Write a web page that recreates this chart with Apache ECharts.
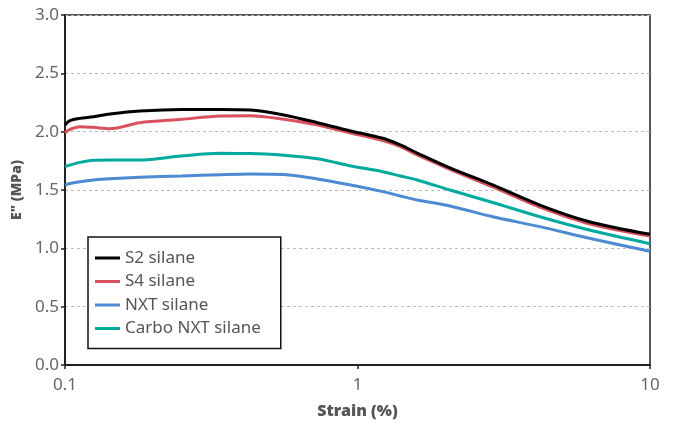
<!DOCTYPE html>
<html>
<head>
<meta charset="utf-8">
<script src="https://cdn.jsdelivr.net/npm/echarts@6/dist/echarts.min.js"></script>
<style>html,body{margin:0;padding:0;background:#fff}#c{width:676px;height:425px}</style>
</head>
<body>
<div id="c"></div>
<script>
const strain = [0.1, 0.104, 0.1125, 0.125, 0.1425, 0.18, 0.25, 0.34, 0.43, 0.56, 0.73, 0.94, 1.22, 1.4, 1.6, 2.07, 2.9, 4.2, 6.2, 10];
const s2 = [2.057, 2.094, 2.114, 2.128, 2.151, 2.177, 2.191, 2.191, 2.186, 2.143, 2.077, 2.008, 1.943, 1.886, 1.817, 1.69, 1.543, 1.371, 1.228, 1.12];
const s4 = [1.991, 2.02, 2.043, 2.037, 2.025, 2.077, 2.106, 2.134, 2.137, 2.106, 2.057, 1.991, 1.923, 1.871, 1.80, 1.677, 1.526, 1.354, 1.211, 1.105];
const nxt = [1.543, 1.555, 1.571, 1.586, 1.597, 1.609, 1.62, 1.631, 1.637, 1.632, 1.595, 1.545, 1.486, 1.449, 1.414, 1.363, 1.27, 1.186, 1.086, 0.975];
const carbo = [1.70, 1.714, 1.737, 1.754, 1.757, 1.757, 1.791, 1.814, 1.813, 1.798, 1.768, 1.708, 1.657, 1.62, 1.586, 1.5, 1.393, 1.271, 1.157, 1.04];
const seriesNames = ['S2 silane', 'S4 silane', 'NXT silane', 'Carbo NXT silane'];
const seriesColors = ['#000000', '#d9505e', '#4d8ad2', '#00aa9f'];
const seriesData = [s2, s4, nxt, carbo];

const chart = echarts.init(document.getElementById('c'));
const font = 'Noto Sans';
chart.setOption({
  animation: false,
  grid: {left: 65, right: 26, top: 15, bottom: 60, show: true, borderColor: '#222', borderWidth: 1.5, backgroundColor: 'transparent'},
  xAxis: {
    type: 'log', logBase: 10, min: 0.1, max: 10,
    name: 'Strain (%)', nameLocation: 'middle', nameGap: 38,
    nameTextStyle: {fontFamily: font, fontSize: 16, fontWeight: 900, color: '#555'},
    axisLine: {lineStyle: {color: '#222', width: 2}},
    axisTick: {show: true, length: 4, lineStyle: {color: '#222', width: 1.5}},
    minorTick: {show: false},
    splitLine: {show: false},
    axisLabel: {fontFamily: font, fontSize: 17, color: '#666', margin: 12,
      formatter: v => (Math.abs(v - 0.1) < 1e-9 ? '0.1' : String(Math.round(v)))}
  },
  yAxis: {
    type: 'value', min: 0, max: 3, interval: 0.5,
    name: 'E" (MPa)', nameLocation: 'middle', nameGap: 35, nameRotate: 90,
    nameTextStyle: {fontFamily: font, fontSize: 14, fontWeight: 900, color: '#555'},
    axisLine: {show: true, lineStyle: {color: '#222', width: 2}},
    axisTick: {show: true, length: 4, lineStyle: {color: '#222', width: 1.5}},
    splitLine: {show: true, lineStyle: {color: '#bbb', type: [3, 3], width: 1}},
    axisLabel: {fontFamily: font, fontSize: 17, color: '#666', margin: 6, formatter: v => v.toFixed(1)}
  },
  legend: {
    orient: 'vertical', left: 88, top: 237,
    data: seriesNames,
    icon: 'rect',
    backgroundColor: '#fff', borderColor: '#111', borderWidth: 1.5,
    padding: [12, 20, 11, 7], itemGap: 5.5, itemWidth: 25, itemHeight: 3,
    textStyle: {fontFamily: font, fontSize: 17, color: '#555', lineHeight: 18}
  },
  series: seriesNames.map((n, i) => ({
    name: n, type: 'line', symbol: 'none', smooth: 0.3,
    color: seriesColors[i],
    lineStyle: {width: 3, color: seriesColors[i]},
    z: 10 - i,
    data: strain.map((x, j) => [x, seriesData[i][j]])
  }))
});
</script>
</body>
</html>
